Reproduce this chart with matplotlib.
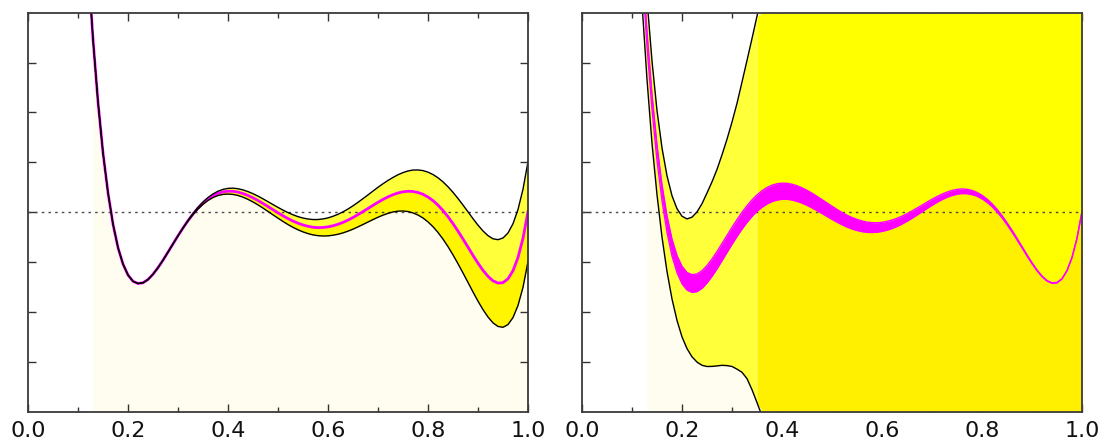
import numpy as np
import matplotlib
matplotlib.use("Agg")
import matplotlib.pyplot as plt

plt.rcParams['font.family'] = ['DejaVu Sans']

# sample positions along x (0.12 .. 1.00)
x = np.round(np.arange(0.12, 1.0001, 0.01), 2)

# posterior mean (same in both panels)
mean = np.array([
    4.99, 3.47, 2.21, 1.19, 0.39, -0.24, -0.71, -1.04, -1.26, -1.385,
    -1.43, -1.415, -1.35, -1.244, -1.112, -0.962, -0.80, -0.636, -0.473, -0.317,
    -0.17, -0.037, 0.081, 0.182, 0.265, 0.330, 0.378, 0.407, 0.421, 0.419,
    0.403, 0.374, 0.335, 0.288, 0.234, 0.175, 0.113, 0.050, -0.012, -0.072,
    -0.128, -0.178, -0.221, -0.256, -0.283, -0.301, -0.309, -0.306, -0.294, -0.272,
    -0.242, -0.204, -0.158, -0.106, -0.048, 0.013, 0.075, 0.138, 0.199, 0.256,
    0.307, 0.351, 0.386, 0.409, 0.420, 0.415, 0.395, 0.359, 0.304, 0.232,
    0.142, 0.034, -0.090, -0.229, -0.379, -0.538, -0.700, -0.865, -1.022, -1.165,
    -1.286, -1.376, -1.421, -1.412, -1.335, -1.172, -0.908, -0.522, 0.012])

# left panel: half width of the yellow band
band_left = np.array([0.0] * 18 + [
    0.000, 0.003, 0.007, 0.012, 0.018, 0.024, 0.030, 0.036, 0.043, 0.050,
    0.057, 0.063, 0.068, 0.073, 0.078, 0.083, 0.088, 0.093, 0.098, 0.103,
    0.108, 0.114, 0.120, 0.126, 0.132, 0.139, 0.146, 0.154, 0.162, 0.171,
    0.180, 0.190, 0.200, 0.211, 0.222, 0.234, 0.246, 0.259, 0.272, 0.286,
    0.300, 0.315, 0.330, 0.346, 0.365, 0.385, 0.407, 0.430, 0.452, 0.475,
    0.499, 0.523, 0.548, 0.574, 0.600, 0.627, 0.654, 0.681, 0.708, 0.735,
    0.762, 0.789, 0.816, 0.843, 0.870, 0.895, 0.918, 0.940, 0.962, 0.983,
    1.003])

# right panel: half width of the magenta band
band_mean_right = np.array([
    0.140, 0.145, 0.150, 0.155, 0.160, 0.165, 0.170, 0.172, 0.175, 0.176,
    0.177, 0.177, 0.176, 0.175, 0.174, 0.173, 0.172, 0.171, 0.170, 0.169,
    0.168, 0.167, 0.166, 0.165, 0.165, 0.165, 0.164, 0.163, 0.162, 0.160,
    0.158, 0.156, 0.153, 0.150, 0.147, 0.143, 0.139, 0.135, 0.131, 0.127,
    0.123, 0.119, 0.115, 0.111, 0.107, 0.103, 0.099, 0.095, 0.091, 0.088,
    0.085, 0.082, 0.079, 0.076, 0.073, 0.070, 0.067, 0.064, 0.061, 0.058,
    0.055, 0.052, 0.050, 0.048, 0.046, 0.044, 0.041, 0.038, 0.035, 0.032,
    0.029, 0.026, 0.023, 0.020, 0.018, 0.016, 0.014, 0.012, 0.010, 0.008,
    0.007, 0.006, 0.005, 0.004, 0.003, 0.002, 0.001, 0.0005, 0.0])

# right panel: distance of the upper / lower envelopes from the mean (x = 0.12 .. 0.38)
up_right = np.array([
    0.78, 0.80, 0.82, 0.85, 0.90, 0.97, 1.04, 1.11, 1.18, 1.25,
    1.33, 1.42, 1.52, 1.63, 1.72, 1.82, 1.95, 2.10, 2.28, 2.50,
    2.78, 3.08, 3.40, 3.75, 4.10, 4.45, 4.80])
lo_right = np.array([
    0.80, 0.81, 0.83, 0.84, 0.89, 0.95, 1.03, 1.13, 1.24, 1.35,
    1.47, 1.59, 1.72, 1.85, 1.98, 2.12, 2.27, 2.44, 2.62, 2.83,
    3.04, 3.30, 3.64, 4.00, 4.35, 4.70, 5.05])

xticks = [0.0, 0.2, 0.4, 0.6, 0.8, 1.0]
xtick_labels = ['0.0', '0.2', '0.4', '0.6', '0.8', '1.0']
yticks = [-3, -2, -1, 0, 1, 2, 3]
YMIN, YMAX = -4, 4

CREAM = '#fffdf0'
MAG = '#ff00ff'

fig = plt.figure(figsize=(11.04, 4.47), dpi=100)
ax1 = fig.add_axes([28 / 1104, 35.3 / 447, 500 / 1104, 399 / 447])
ax2 = fig.add_axes([582 / 1104, 35.3 / 447, 500 / 1104, 399 / 447])


def style(ax):
    ax.set_xlim(0, 1)
    ax.set_ylim(YMIN, YMAX)
    ax.set_xticks(xticks)
    ax.set_xticklabels(xtick_labels)
    ax.set_xticks([0.1, 0.3, 0.5, 0.7, 0.9], minor=True)
    ax.set_yticks(yticks)
    ax.set_yticklabels([])
    ax.tick_params(which='both', direction='in', top=True, right=True,
                   color='#333333', width=1.0)
    ax.tick_params(which='major', length=6, labelsize=16, pad=7,
                   labelcolor='#111111')
    ax.tick_params(which='minor', length=3.5)
    for sp in ax.spines.values():
        sp.set_color('#3a3a3a')
        sp.set_linewidth(1.3)
        sp.set_zorder(10)
    ax.axhline(0, color='#4a4a4a', lw=1.0, ls=(0, (1.8, 3.0)), zorder=6)


# ---------- left panel ----------
upper_l = mean + band_left
lower_l = mean - band_left
cream_l = x >= 0.125
ax1.fill_between(x, YMIN, np.minimum(lower_l, YMAX), where=cream_l,
                 color=CREAM, lw=0, zorder=1)
ax1.fill_between(x, mean, upper_l, color='#ffff3a', lw=0, zorder=2)
ax1.fill_between(x, lower_l, mean, color='#fff500', lw=0, zorder=2)
ax1.plot(x, mean, color=MAG, lw=2.0, zorder=7)
ax1.plot(x, upper_l, color='black', lw=1.0, zorder=8)
ax1.plot(x, lower_l, color='black', lw=1.0, zorder=8)
style(ax1)

# ---------- right panel ----------
n = len(up_right)
xr = x[:n]
upper_r = mean[:n] + up_right
lower_r = mean[:n] - lo_right
top_full = np.full_like(mean, YMAX)
bot_full = np.full_like(mean, YMIN)
top_full[:n] = np.clip(upper_r, YMIN, YMAX)
bot_full[:n] = np.clip(lower_r, YMIN, YMAX)
m_hi = mean + band_mean_right
m_lo = mean - band_mean_right

ax2.fill_between(xr, YMIN, np.minimum(lower_r, YMAX), where=xr >= 0.125,
                 color=CREAM, lw=0, zorder=1)
left_part = x <= 0.35
right_part = x >= 0.35
ax2.fill_between(x, np.maximum(m_hi, bot_full), top_full, where=left_part,
                 color='#ffff3a', lw=0, zorder=2)
ax2.fill_between(x, np.maximum(m_hi, bot_full), top_full, where=right_part,
                 color='#ffff00', lw=0, zorder=2)
ax2.fill_between(x, bot_full, np.minimum(m_lo, top_full), where=left_part,
                 color='#ffff3a', lw=0, zorder=2)
ax2.fill_between(x, bot_full, np.minimum(m_lo, top_full), where=right_part,
                 color='#fff000', lw=0, zorder=2)
ax2.fill_between(x, m_lo, m_hi, color=MAG, lw=0, zorder=7)
ax2.plot(x, m_lo, color=MAG, lw=1.0, zorder=7)
ax2.plot(x, m_hi, color=MAG, lw=1.0, zorder=7)
ax2.plot(xr, upper_r, color='black', lw=1.0, zorder=8)
ax2.plot(xr, lower_r, color='black', lw=1.0, zorder=8)
style(ax2)

fig.savefig('out.png', dpi=100)
